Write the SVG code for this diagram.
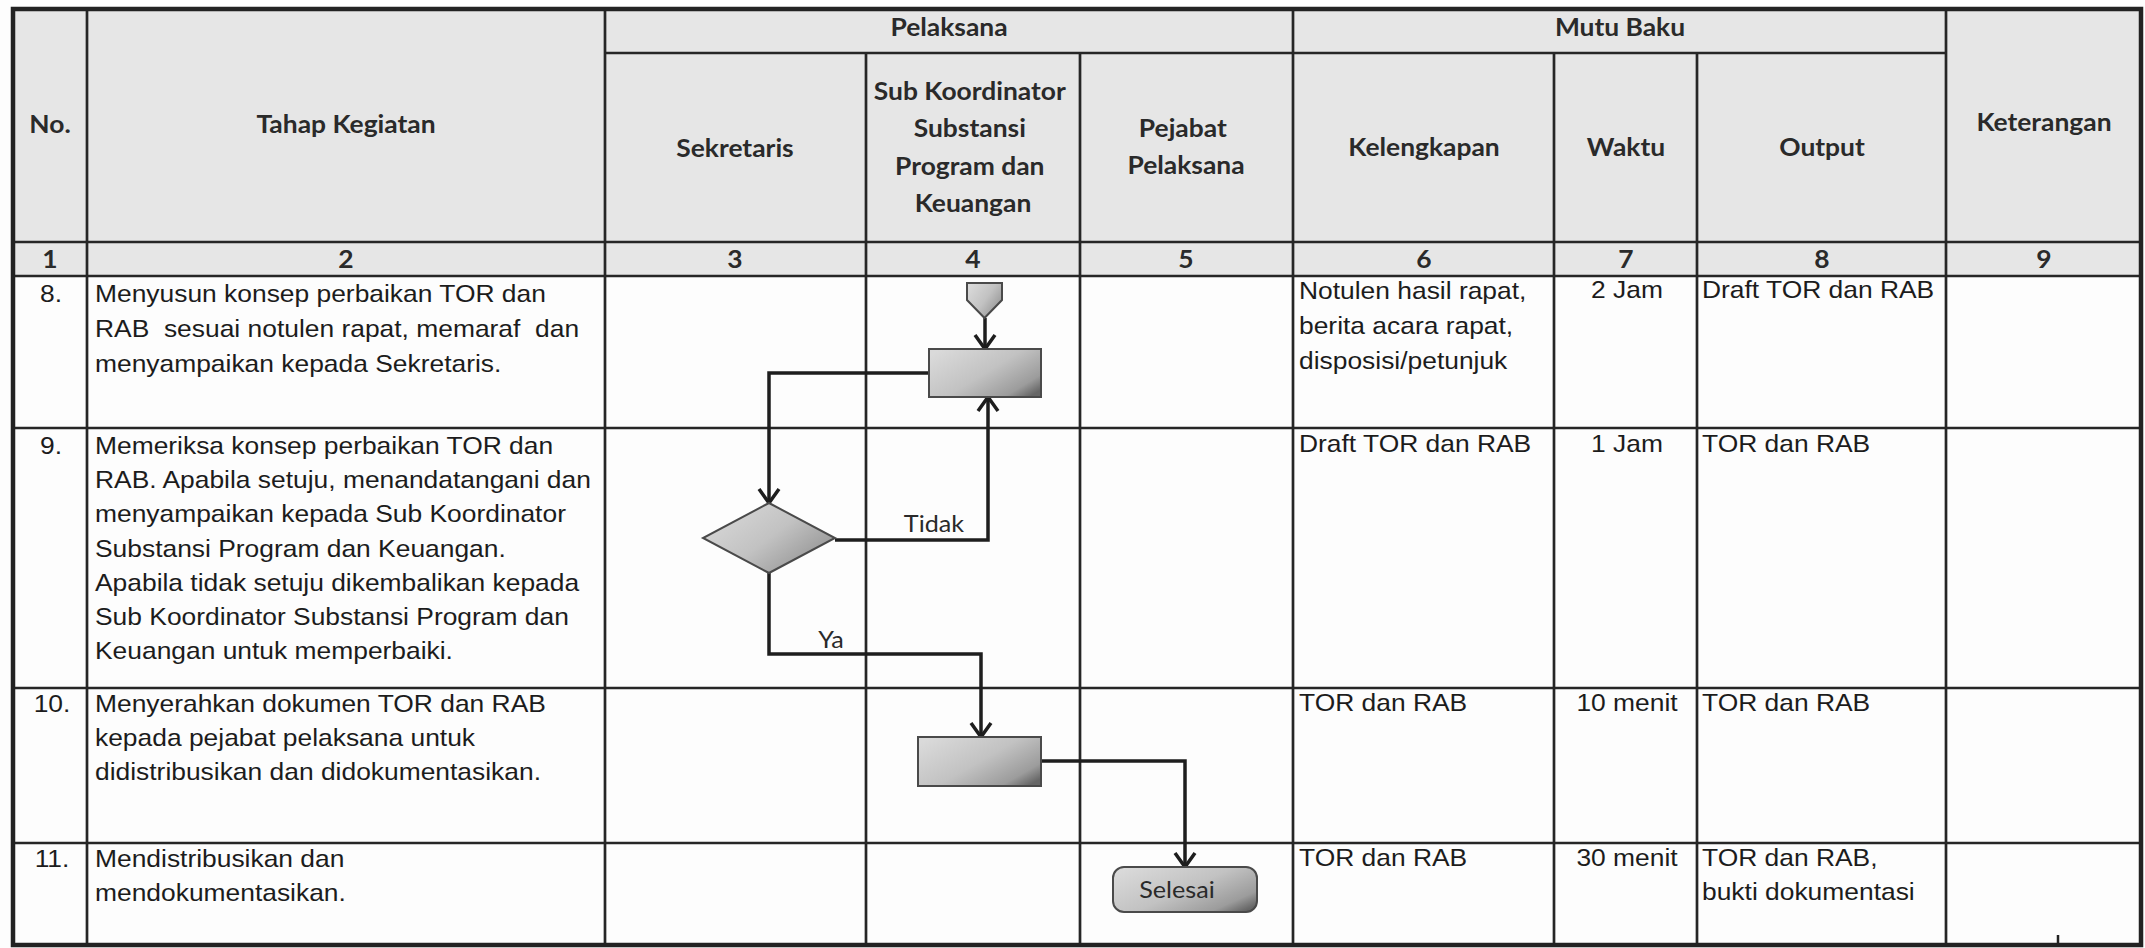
<svg xmlns="http://www.w3.org/2000/svg" width="2145" height="948" viewBox="0 0 2145 948">
  <style>
    .hd { font-family: Lato, "Noto Sans", "Liberation Sans", sans-serif; font-weight: 700; font-size: 24px; fill: #2a2a2a; }
    .bd { font-family: "Liberation Sans", Arial, sans-serif; font-size: 24px; fill: #1c1c1c; }
    .lbl { font-family: Lato, "Noto Sans", "Liberation Sans", sans-serif; font-size: 24px; fill: #2a2a2a; }
    .grid { stroke: #262626; stroke-width: 2.7; fill: none; }
    .frame { stroke: #222; stroke-width: 4.5; fill: none; }
    .shape { fill: url(#metal); stroke: #4a4a4a; stroke-width: 2; }
    .flow { stroke: #1e1e1e; stroke-width: 3.5; fill: none; stroke-linejoin: miter; }
  </style>
  <defs>
    <linearGradient id="metal" x1="0" y1="0.15" x2="1" y2="0.85">
      <stop offset="0" stop-color="#dadada"/>
      <stop offset="0.5" stop-color="#c2c2c2"/>
      <stop offset="0.85" stop-color="#9c9c9c"/>
      <stop offset="1" stop-color="#666"/>
    </linearGradient>
    <marker id="arrow" viewBox="0 0 20 24" refX="17" refY="12" markerWidth="20" markerHeight="24" markerUnits="userSpaceOnUse" orient="auto">
      <path d="M3,2 L17,12 L3,22" fill="none" stroke="#1e1e1e" stroke-width="3.5"/>
    </marker>
  </defs>

  <!-- page and header shading -->
  <rect x="0" y="0" width="2145" height="948" fill="#fdfdfd"/>
  <rect x="13" y="9" width="2128" height="267" fill="#e6e6e6"/>

  <!-- table grid -->
  <g id="table-grid">
    <path class="grid" d="M87 9V946 M605 9V946 M866 53V946 M1080 53V946 M1293 9V946 M1554 53V946 M1697 53V946 M1946 9V946"/>
    <path class="grid" d="M605 53H1946 M13 242H2141 M13 276H2141 M13 428H2141 M13 688H2141 M13 843H2141"/>
    <rect class="frame" x="13" y="9" width="2128" height="936"/>
    <path d="M2058 935V945" stroke="#222" stroke-width="2.5"/>
  </g>

  <!-- column headings -->
  <g id="headings" class="hd" text-anchor="middle">
    <text transform="translate(50,133) scale(1.1,1)">No.</text>
    <text transform="translate(346,133) scale(1.1,1)">Tahap Kegiatan</text>
    <text transform="translate(949,36) scale(1.1,1)">Pelaksana</text>
    <text transform="translate(1620,36) scale(1.1,1)">Mutu Baku</text>
    <text transform="translate(735,157) scale(1.1,1)">Sekretaris</text>
    <text transform="translate(973,100) scale(1.1,1)">
      <tspan x="0">Sub Koordinator</tspan>
      <tspan x="0" dy="37.5">Substansi</tspan>
      <tspan x="0" dy="37.5">Program dan</tspan>
      <tspan x="0" dy="37.5">Keuangan</tspan>
    </text>
    <text transform="translate(1186,137) scale(1.1,1)">
      <tspan x="0">Pejabat</tspan>
      <tspan x="0" dy="37">Pelaksana</tspan>
    </text>
    <text transform="translate(1424,156) scale(1.1,1)">Kelengkapan</text>
    <text transform="translate(1626,156) scale(1.1,1)">Waktu</text>
    <text transform="translate(1822,156) scale(1.1,1)">Output</text>
    <text transform="translate(2044,131) scale(1.1,1)">Keterangan</text>
    <text transform="translate(50,268) scale(1.1,1)">1</text>
    <text transform="translate(346,268) scale(1.1,1)">2</text>
    <text transform="translate(735,268) scale(1.1,1)">3</text>
    <text transform="translate(973,268) scale(1.1,1)">4</text>
    <text transform="translate(1186,268) scale(1.1,1)">5</text>
    <text transform="translate(1424,268) scale(1.1,1)">6</text>
    <text transform="translate(1626,268) scale(1.1,1)">7</text>
    <text transform="translate(1822,268) scale(1.1,1)">8</text>
    <text transform="translate(2044,268) scale(1.1,1)">9</text>
  </g>

  <!-- row numbers and activity steps -->
  <g id="steps" class="bd">
    <g text-anchor="middle">
      <text transform="translate(51,302) scale(1.1,1)">8.</text>
      <text transform="translate(51,454) scale(1.1,1)">9.</text>
      <text transform="translate(52,712) scale(1.1,1)">10.</text>
      <text transform="translate(52,867) scale(1.1,1)">11.</text>
    </g>
    <text transform="translate(95,302) scale(1.1,1)" xml:space="preserve"><tspan x="0">Menyusun konsep perbaikan TOR dan</tspan><tspan x="0" dy="35">RAB  sesuai notulen rapat, memaraf  dan</tspan><tspan x="0" dy="35">menyampaikan kepada Sekretaris.</tspan></text>
    <text transform="translate(95,454) scale(1.1,1)">
      <tspan x="0">Memeriksa konsep perbaikan TOR dan</tspan>
      <tspan x="0" dy="34.2">RAB. Apabila setuju, menandatangani dan</tspan>
      <tspan x="0" dy="34.2">menyampaikan kepada Sub Koordinator</tspan>
      <tspan x="0" dy="34.2">Substansi Program dan Keuangan.</tspan>
      <tspan x="0" dy="34.2">Apabila tidak setuju dikembalikan kepada</tspan>
      <tspan x="0" dy="34.2">Sub Koordinator Substansi Program dan</tspan>
      <tspan x="0" dy="34.2">Keuangan untuk memperbaiki.</tspan>
    </text>
    <text transform="translate(95,712) scale(1.1,1)">
      <tspan x="0">Menyerahkan dokumen TOR dan RAB</tspan>
      <tspan x="0" dy="34">kepada pejabat pelaksana untuk</tspan>
      <tspan x="0" dy="34">didistribusikan dan didokumentasikan.</tspan>
    </text>
    <text transform="translate(95,867) scale(1.1,1)">
      <tspan x="0">Mendistribusikan dan</tspan>
      <tspan x="0" dy="34">mendokumentasikan.</tspan>
    </text>
  </g>

  <!-- quality standard columns -->
  <g id="standards" class="bd">
    <text transform="translate(1299,299) scale(1.1,1)">
      <tspan x="0">Notulen hasil rapat,</tspan>
      <tspan x="0" dy="35">berita acara rapat,</tspan>
      <tspan x="0" dy="35">disposisi/petunjuk</tspan>
    </text>
    <text transform="translate(1299,452) scale(1.1,1)">Draft TOR dan RAB</text>
    <text transform="translate(1299,711) scale(1.1,1)">TOR dan RAB</text>
    <text transform="translate(1299,866) scale(1.1,1)">TOR dan RAB</text>
    <g text-anchor="middle">
      <text transform="translate(1627,298) scale(1.1,1)">2 Jam</text>
      <text transform="translate(1627,452) scale(1.1,1)">1 Jam</text>
      <text transform="translate(1627,711) scale(1.1,1)">10 menit</text>
      <text transform="translate(1627,866) scale(1.1,1)">30 menit</text>
    </g>
    <text transform="translate(1702,298) scale(1.1,1)">Draft TOR dan RAB</text>
    <text transform="translate(1702,452) scale(1.1,1)">TOR dan RAB</text>
    <text transform="translate(1702,711) scale(1.1,1)">TOR dan RAB</text>
    <text transform="translate(1702,866) scale(1.1,1)">
      <tspan x="0">TOR dan RAB,</tspan>
      <tspan x="0" dy="34">bukti dokumentasi</tspan>
    </text>
  </g>

  <!-- connectors -->
  <g id="connectors">
    <path class="flow" d="M985 318V349" marker-end="url(#arrow)"/>
    <path class="flow" d="M929 373H769V503" marker-end="url(#arrow)"/>
    <path class="flow" d="M835 540H988V397" marker-end="url(#arrow)"/>
    <path class="flow" d="M769 573V654H981V737" marker-end="url(#arrow)"/>
    <path class="flow" d="M1041 761H1185V867" marker-end="url(#arrow)"/>
    <text class="lbl" transform="translate(934,532) scale(1.05,1)" text-anchor="middle">Tidak</text>
    <text class="lbl" transform="translate(831,648) scale(1.05,1)" text-anchor="middle">Ya</text>
  </g>

  <!-- flow nodes -->
  <g id="node-start-connector">
    <polygon class="shape" points="967,283 1002,283 1002,300 984.5,318 967,300"/>
  </g>
  <g id="node-draft">
    <rect class="shape" x="929" y="349" width="112" height="48"/>
  </g>
  <g id="node-check">
    <polygon class="shape" points="769,503 835,538 769,573 703,538"/>
  </g>
  <g id="node-hand-over">
    <rect class="shape" x="918" y="737" width="123" height="49"/>
  </g>
  <g id="node-finish">
    <rect class="shape" x="1113" y="867" width="144" height="45" rx="11"/>
    <text class="lbl" transform="translate(1177,898) scale(1.05,1)" text-anchor="middle" font-size="26">Selesai</text>
  </g>
</svg>
